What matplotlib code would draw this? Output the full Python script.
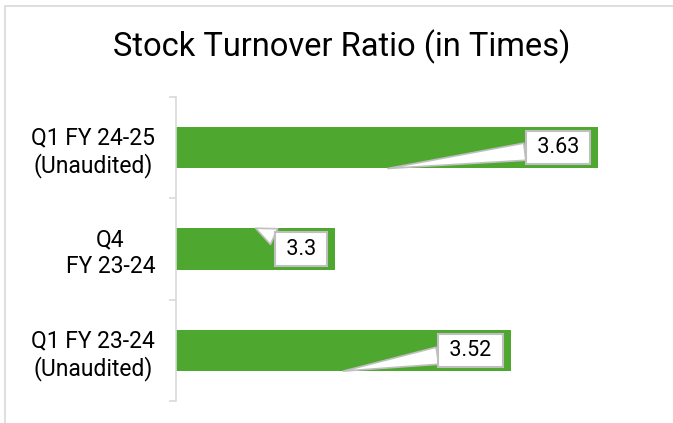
import matplotlib.pyplot as plt
from matplotlib.patches import Rectangle
from matplotlib.transforms import ScaledTranslation

# data (top to bottom)
categories = ['Q1 FY 24-25\n(Unaudited)', 'Q4\nFY 23-24', 'Q1 FY 23-24\n(Unaudited)']
values = [3.63, 3.3, 3.52]

# where each callout's pointer touches the bar (layout only)
tip_x = [3.366, 3.20, 3.31]
tip_side = [1, -1, 1]   # 1 = bottom edge, -1 = top edge

green = '#4EA72E'
grey = '#D9D9D9'
plt.rcParams['font.family'] = ['Roboto', 'DejaVu Sans']

fig = plt.figure(figsize=(6.73, 4.23), dpi=100)
ax = fig.add_axes([176 / 673, 22 / 423, 478 / 673, 304 / 423])

bar_h = 0.41
pos = list(range(len(categories)))
ax.barh(pos, values, height=bar_h, color=green, left=0)
ax.set_xlim(3.1, 3.7)
ax.set_ylim(2.5, -0.5)

# axis styling
for s in ['top', 'right', 'bottom']:
    ax.spines[s].set_visible(False)
ax.spines['left'].set_color(grey)
ax.spines['left'].set_linewidth(1.2)
ax.set_xticks([])
ax.set_yticks(pos)
ax.set_yticklabels(categories, fontsize=16.5, color='#000000', multialignment='center')
ax.tick_params(axis='y', which='major', length=0, pad=15)
ax.set_yticks([p - 0.5 for p in pos] + [pos[-1] + 0.5], minor=True)
ax.tick_params(axis='y', which='minor', length=5, color=grey, width=1.2)

# callout labels
shift = ax.transData + ScaledTranslation(-10 / 72, 0, fig.dpi_scale_trans)
for p, v, tx, side in zip(pos, values, tip_x, tip_side):
    ax.annotate(f' {v:g} ', xy=(tx, p + side * bar_h / 2), xycoords='data',
                xytext=(v, p), textcoords=shift,
                ha='right', va='center', fontsize=15.5,
                bbox=dict(boxstyle='square,pad=0.28', fc='white', ec='#BFBFBF', lw=1.5),
                arrowprops=dict(arrowstyle='wedge,tail_width=0.8,shrink_factor=0.5',
                                fc='white', ec='#BFBFBF', lw=1.2,
                                shrinkA=0, shrinkB=0))

fig.text(342 / 673, 1 - 47 / 423, 'Stock Turnover Ratio (in Times)', ha='center', va='center',
         fontsize=23.5, color='#000000')

# chart area border
fig.patches.append(Rectangle((5 / 673, -0.1), 1.2, 1.1 - 6 / 423, transform=fig.transFigure,
                             fill=False, ec=grey, lw=1.2))

fig.savefig('out.png', dpi=100)
